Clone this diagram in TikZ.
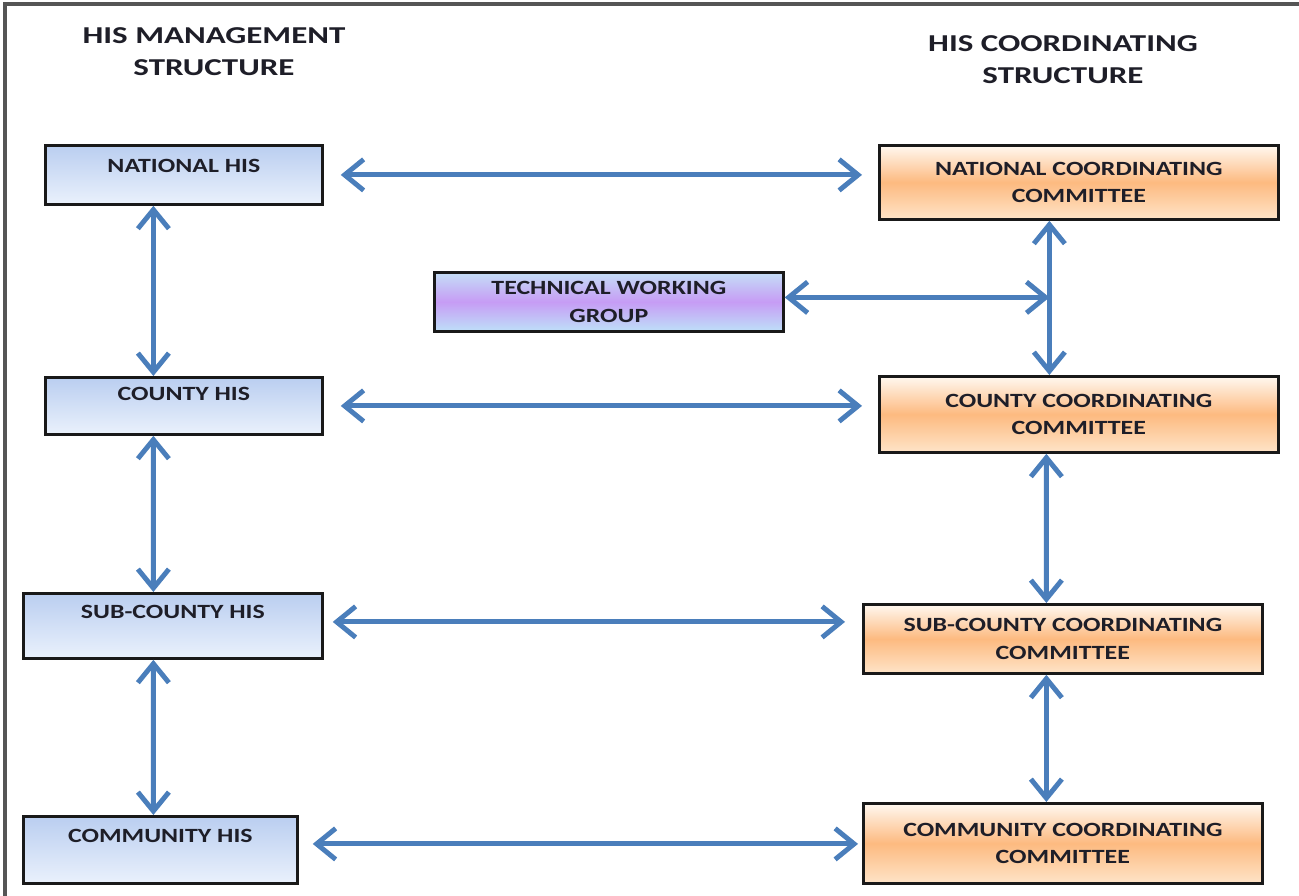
\documentclass[tikz,border=0pt]{standalone}
\usepackage{fontspec}
\setmainfont{Carlito}
\newfontfamily\cfont[FakeStretch=1.28]{Carlito}
\newfontfamily\hfont[FakeStretch=1.36]{Carlito}
\usetikzlibrary{arrows.meta,calc,shadows}
\definecolor{arrblue}{RGB}{74,126,187}
\definecolor{frame}{RGB}{85,85,85}
\definecolor{txt}{RGB}{30,30,40}
\tikzset{
  arr/.style={draw=arrblue, line width=2.8pt,
    {Straight Barb[length=0.38cm,width=0.62cm]}-{Straight Barb[length=0.38cm,width=0.62cm]}},
  box/.style={draw=black!90, line width=1.6pt, inner sep=0pt, align=center,
    anchor=north west, text=txt, font=\cfont\bfseries\fontsize{11.5}{15.5}\selectfont,
    drop shadow={opacity=0.25,shadow xshift=1pt,shadow yshift=-1pt}},
  bluebox/.style={box, top color={rgb,255:red,186;green,206;blue,240},
    bottom color={rgb,255:red,234;green,241;blue,252}},
  orangebox/.style={box, top color={rgb,255:red,255;green,248;blue,240},
    bottom color={rgb,255:red,254;green,228;blue,200},
    middle color={rgb,255:red,253;green,186;blue,128}},
  violetbox/.style={box, top color={rgb,255:red,196;green,222;blue,246},
    bottom color={rgb,255:red,190;green,224;blue,248},
    middle color={rgb,255:red,198;green,156;blue,245}},
  header/.style={align=center, text=txt, font=\hfont\bfseries\fontsize{13.8}{18.5}\selectfont, inner sep=0pt}
}
\begin{document}
\begin{tikzpicture}[x=0.02cm,y=-0.02cm]
\useasboundingbox (0,0) rectangle (1299,896);
\fill[white] (0,0) rectangle (1299,896);
% frame
\draw[frame, line width=2pt] (5,896) -- (5,4) -- (1299,4);

% headers
\node[header, anchor=north] (hm) at (214,27) {HIS MANAGEMENT\\STRUCTURE};
\node[header, anchor=north] (hc) at (1063,35) {HIS COORDINATING\\STRUCTURE};

% left column
\node[bluebox, minimum width=5.54cm, text height=0.54cm, text depth=0.64cm] (nhis) at (44,144) {NATIONAL HIS};
\node[bluebox, minimum width=5.54cm, text height=0.46cm, text depth=0.68cm] (chis) at (44,376) {COUNTY HIS};
\node[bluebox, minimum width=5.98cm, text height=0.50cm, text depth=0.80cm] (schis) at (22,592) {SUB-COUNTY HIS};
\node[bluebox, minimum width=5.48cm, text height=0.52cm, text depth=0.82cm] (cmhis) at (22,815) {COMMUNITY HIS};

% right column
\node[orangebox, minimum width=7.98cm, minimum height=1.48cm] (ncc) at (878,144) {NATIONAL COORDINATING\\COMMITTEE};
\node[orangebox, minimum width=7.98cm, minimum height=1.52cm] (ccc) at (878,375) {COUNTY COORDINATING\\COMMITTEE};
\node[orangebox, minimum width=7.98cm, minimum height=1.38cm] (sccc) at (862,603) {SUB-COUNTY COORDINATING\\COMMITTEE};
\node[orangebox, minimum width=7.98cm, minimum height=1.60cm] (cmcc) at (862,802) {COMMUNITY COORDINATING\\COMMITTEE};

% technical working group
\node[violetbox, minimum width=6.98cm, minimum height=1.18cm] (twg) at (433,271) {TECHNICAL WORKING\\GROUP};

% horizontal connectors
\draw[arr, shorten <=17*0.02cm, shorten >=16*0.02cm] (nhis.east) -- (nhis.east -| ncc.west);
\draw[arr, shorten <=17*0.02cm, shorten >=16*0.02cm] (chis.east) -- (chis.east -| ccc.west);
\draw[arr, shorten <=9*0.02cm, shorten >=17*0.02cm] ([yshift=0.08cm]schis.east) -- ([yshift=0.08cm]schis.east -| sccc.west);
\draw[arr, shorten <=14*0.02cm, shorten >=4*0.02cm] ([yshift=0.12cm]cmhis.east) -- ([yshift=0.12cm]cmhis.east -| cmcc.west);

% vertical connectors, left
\draw[arr] ([xshift=-0.61cm]nhis.south) -- ([xshift=-0.61cm]chis.north);
\draw[arr] ([xshift=-0.61cm]chis.south) -- ([xshift=-0.39cm]schis.north);
\draw[arr] ([xshift=-0.39cm]schis.south) -- ([xshift=-0.14cm]cmhis.north);

% vertical connectors, right
\draw[arr] ([xshift=-0.59cm]ncc.south) -- ([xshift=-0.59cm]ccc.north);
\coordinate (jn) at ([xshift=-0.59cm]ncc.south);
\draw[arr] ([yshift=0.09cm]twg.east) -- ([yshift=0.09cm]twg.east -| jn);
\draw[arr] ([xshift=-0.65cm]ccc.south) -- ([xshift=-0.33cm]sccc.north);
\draw[arr] ([xshift=-0.33cm]sccc.south) -- ([xshift=-0.33cm]cmcc.north);
\end{tikzpicture}
\end{document}
